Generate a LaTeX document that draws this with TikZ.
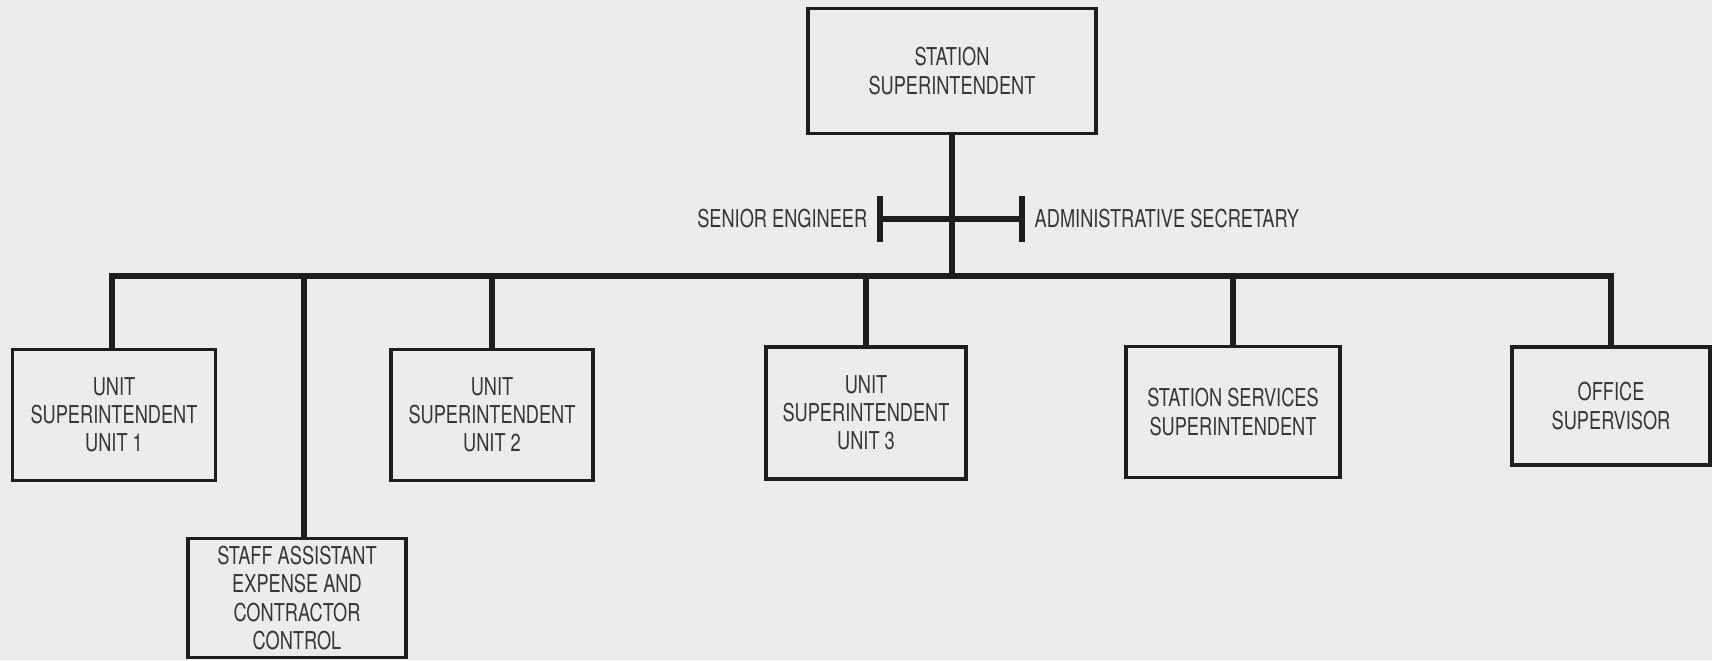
\documentclass[tikz,border=0pt]{standalone}
\usepackage{fontspec}
\setmainfont{TeX Gyre Heros}[FakeStretch=0.74]
\definecolor{paper}{HTML}{ECECEA}
\definecolor{ink}{HTML}{1E1E1E}
\definecolor{txt}{HTML}{363636}
\tikzset{
  box/.style={draw=ink, line width=1.1pt, fill=paper, align=center, inner sep=0pt,
    text=txt, font=\fontsize{7}{8}\selectfont},
  link/.style={draw=ink, line width=1.8pt},
  lbl/.style={text=txt, inner sep=0pt, font=\fontsize{7}{8}\selectfont}
}
\begin{document}
\begin{tikzpicture}[x=0.01cm,y=-0.01cm]
\fill[paper] (0,0) rectangle (1712,660);
\useasboundingbox (0,0) rectangle (1712,660);
\node[box, minimum width=2.88cm, minimum height=1.25cm] (top) at (952,71) {STATION\\SUPERINTENDENT};
\node[box, minimum width=2.03cm, minimum height=1.31cm] (u1) at (114,415) {UNIT\\SUPERINTENDENT\\UNIT 1};
\node[box, minimum width=2.02cm, minimum height=1.31cm] (u2) at (492,415) {UNIT\\SUPERINTENDENT\\UNIT 2};
\node[box, minimum width=2.00cm, minimum height=1.32cm] (u3) at (866,413) {UNIT\\SUPERINTENDENT\\UNIT 3};
\node[box, minimum width=2.14cm, minimum height=1.31cm] (ss) at (1233,412) {STATION SERVICES\\SUPERINTENDENT};
\node[box, minimum width=1.98cm, minimum height=1.18cm] (off) at (1611,406) {OFFICE\\SUPERVISOR};
\node[box, minimum width=2.18cm, minimum height=1.19cm] (staff) at (297,598) {STAFF ASSISTANT\\EXPENSE AND\\CONTRACTOR\\CONTROL};
\node[lbl, anchor=east] (sen) at (868,219) {SENIOR ENGINEER};
\node[lbl, anchor=west] (adm) at (1034,219) {ADMINISTRATIVE SECRETARY};
\coordinate (bus) at (top.south |- 0,276);
\coordinate (senT) at (880,219);
\coordinate (admT) at (1022,219);
\draw[link] (top.south) -- (bus);
\draw[link] (senT) -- (admT);
\draw[link] (senT) ++(0,-23) -- ++(0,46);
\draw[link] (admT) ++(0,-23) -- ++(0,46);
\draw[link, line cap=rect] (u1.north -| 112,0) |- (bus) -| (off.north);
\draw[link] (u2.north) -- (u2.north |- bus);
\draw[link] (u3.north) -- (u3.north |- bus);
\draw[link] (ss.north) -- (ss.north |- bus);
\draw[link] (staff.north -| 304,0) -- (304,276);
\end{tikzpicture}
\end{document}
